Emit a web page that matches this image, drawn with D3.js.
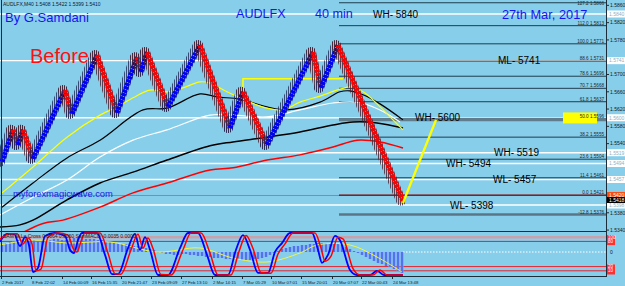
<!DOCTYPE html>
<html><head><meta charset="utf-8">
<script src="https://cdn.jsdelivr.net/npm/d3@7"></script>
<style>body{margin:0;background:#87CEEB;} svg{display:block;font-family:"Liberation Sans",Arial,sans-serif;}</style>
</head><body><svg id="c" width="625" height="286"></svg>
<script>
// ---------- DATA ----------
// zigzag (renko) turning points: bar index, price
const zzBar   = [1,6.5,9,11.5,16.5,32.5,36,48.5,58.5,68.5,70.5,73.5,84,100,115,121.5,133.5,156.5,160.5,169,201.5];
const zzPrice = [1.5498,1.5572,1.5537,1.5572,1.5505,1.5664,1.5609,1.5745,1.5611,1.5740,1.5706,1.5752,1.5625,1.5768,1.5576,1.5660,1.5537,1.5752,1.5669,1.5768,1.5408];

const yellowBar = [1,16.5,33.5,50,58.5,66.5,75,83.5,91.5,100,105,113.5,125,133.5,141.5,150,160,170,176,182.5,190,196.5,201.5];
const yellowVal = [1.5426,1.5486,1.5555,1.5606,1.5625,1.5646,1.5664,1.5660,1.5669,1.5683,1.5680,1.5660,1.5636,1.5622,1.5618,1.5636,1.5650,1.5666,1.5671,1.5657,1.5625,1.5595,1.5572];
const black1Bar = [1,16.5,33.5,50,71.5,83.5,100,108.5,120,133.5,143.5,160,170,175,181.5,190,201.5];
const black1Val = [1.5393,1.5449,1.5507,1.5548,1.5618,1.5622,1.5655,1.5648,1.5643,1.5625,1.5618,1.5636,1.5660,1.5662,1.5653,1.5632,1.5595];
const whiteBar  = [0,16.5,33.5,50,66.5,83.5,105,116.5,133.5,150,166.5,178.5,190,200];
const whiteVal  = [1.5375,1.5416,1.5456,1.5509,1.5548,1.5572,1.5606,1.5606,1.5602,1.5618,1.5634,1.5636,1.5618,1.5590];
const black2Bar = [0,10,16.5,33.5,50,66.5,83.5,105,116.5,133.5,150,166.5,176.5,188.5,201.5];
const black2Val = [1.5347,1.5352,1.5363,1.5410,1.5449,1.5474,1.5502,1.5535,1.5544,1.5555,1.5567,1.5583,1.5590,1.5588,1.5576];
const redBar    = [0,21.5,31.5,50,66.5,83.5,105,116.5,133.5,150,166.5,178.5,190,201.5];
const redVal    = [1.5306,1.5355,1.5363,1.5393,1.5426,1.5449,1.5479,1.5484,1.5502,1.5514,1.5532,1.5548,1.5544,1.5530];

const stepBar = [121.5,121.5,171.5];
const stepVal = [1.5657,1.5690,1.5690];
const projBar = [201.5,218];
const projVal = [1.5403,1.5595];

// horizontal levels
const levelPrice = [1.5840,1.5732,1.5600,1.5519,1.5494,1.5457,1.5398];
const levelText  = ["WH- 5840","ML- 5741","WH- 5600","WH- 5519","WH- 5494","WL- 5457","WL- 5398"];
const levelBox   = ["1.5840","1.5741","1.5600","1.5519","1.5494","1.5457","1.5398"];
const levelLabelX = [373,498,415,494,446,493,450];

// fibonacci
const fibStartBar = 169.5;
const fibPct   = ["127.2","112.0","100.0","88.6","78.6","70.7","61.8","50.0","38.2","23.6","11.4","0.0","-12.8"];
const fibPrice = [1.5866,1.5813,1.5771,1.5731,1.5696,1.5668,1.5637,1.5596,1.5555,1.5504,1.5461,1.5421,1.5376];

const priceTicks = [1.5860,1.5820,1.5780,1.5700,1.5660,1.5620,1.5580,1.5540,1.5380,1.5340];
const bidPrice = 1.5420;

// time axis
const timeBar = [0.5,15.5,31,45.5,60.5,75.5,90.5,106,121,135.5,150.5,166,180.5,196];
const timeLabel = ["2 Feb 2017","8 Feb 22:02","14 Feb 00:09","16 Feb 15:35","20 Feb 21:47","23 Feb 09:09","27 Feb 13:10","2 Mar 14:15","7 Mar 05:29","10 Mar 07:01","15 Mar 20:01","20 Mar 07:07","22 Mar 00:43","24 Mar 13:48"];

// oscillator
const oscBlueBar = [0,3.5,7,10,12.5,14.5,16.5,19,22.5,27.5,32.5,35,37,39,41,48.5,52.5,56,59,64,67.5,70,72.5,75,79,84,90,94,99,103.5,107.5,114,118,121.5,125,129,134,137.5,141,145,156,159,161,164,167.5,170,175,178.5,185,188.5,192,201.5];
const oscBlueVal = [79,98,98,69,90,71,7,17,93,100,93,60,52,83,100,100,48,2,2,64,98,60,90,60,0,0,64,100,100,48,0,0,60,95,60,5,5,55,76,100,100,60,29,48,93,83,12,0,0,10,0,0];
const oscRedBar = [0,5,8.5,11.5,14,16,18,20.5,24,29,34,36.5,38.5,40.5,42.5,50,54,57.5,60.5,65.5,69,71.5,74,76.5,80.5,85.5,91.5,95.5,100.5,105,109,115.5,119.5,123,126.5,130.5,135.5,139,142.5,146.5,157.5,160.5,162.5,165.5,169,171.5,176.5,180,186.5,190,193.5,201.5];
const oscRedVal = [85,98,98,74,88,74,10,14,90,100,95,64,55,80,100,100,52,3,2,60,97,64,88,63,1,0,60,100,100,52,0,0,56,94,63,6,4,50,74,100,100,64,33,45,90,86,15,0,0,12,0,0];
const oscLevels = [90,80,20,10];
const histVal = [8,9,10,11,12,12,13,13, 12,11,11,12,12,13,13,12, 12,13,14,14,14,13,13,13,12, 12,11,10,10,9,8,8, 7,6,6,5,4,3,2, 0,-1,-2,-2,-3,-3,-2,-2,-3,-3,-4, -4,-5,-5,-6,-6,-6,-7,-7,-7, -7,-8,-8,-8,-7,-7,-6,-5,-3, -1,1,3,4,5,6,6,7, 7,8,8,9,9,9,9,8,8,7,5,3, 1,-1,-3,-5,-7,-9,-11,-12,-14,-15,-17,-19,-21];
const histStartBar = 1, histStepBar = 2;
const sigBar = [0,16.5,33.5,55,78.5,100,116.5,133.5,150,158.5,175,188.5,201];
const sigVal = [7,12,9,10,0,4,-6,-10,-1,7,7,-5,-20];

// ---------- DRAW ----------
const svg = d3.select('#c');
const W = 625, H = 286, AX = 606;
svg.append('rect').attr('width', W).attr('height', H).attr('fill', '#87CEEB');

const x  = d3.scaleLinear().domain([0, 303]).range([0, AX]);
const y  = d3.scaleLinear().domain([1.5840, 1.5398]).range([14, 205]);
const yo = d3.scaleLinear().domain([0, 100]).range([275, 233]);
const yh = d3.scaleLinear().domain([-21, 21]).range([273, 231]);

const defs = svg.append('defs');
defs.append('clipPath').attr('id', 'mc').append('rect').attr('x', 0).attr('y', 0).attr('width', AX).attr('height', 231);
defs.append('clipPath').attr('id', 'sc').append('rect').attr('x', 0).attr('y', 232).attr('width', AX).attr('height', 44);
[['stUp', '#1e2a58'], ['stDn', '#4a2030']].forEach(p => {
  const pat = defs.append('pattern').attr('id', p[0]).attr('patternUnits', 'userSpaceOnUse')
    .attr('width', 2).attr('height', 6);
  pat.append('rect').attr('x', 0).attr('y', 0).attr('width', 1).attr('height', 6).attr('fill', p[1]).attr('fill-opacity', 0.8);
});
const main = svg.append('g').attr('clip-path', 'url(#mc)');
const sub  = svg.append('g').attr('clip-path', 'url(#sc)');

const zip = (a, b) => a.map((v, i) => [v, b[i]]);
const pline = d3.line().x(d => x(d[0])).y(d => y(d[1])).curve(d3.curveCatmullRom.alpha(0.5));
const sline = d3.line().x(d => x(d[0])).y(d => y(d[1]));

// level lines (white)
levelPrice.forEach(p => {
  main.append('line').attr('x1', 0).attr('x2', AX).attr('y1', y(p)).attr('y2', y(p))
    .attr('stroke', '#ffffff').attr('stroke-width', 1.4);
});
// bid line
main.append('line').attr('x1', 0).attr('x2', AX).attr('y1', y(bidPrice)).attr('y2', y(bidPrice))
  .attr('stroke', '#d9704f').attr('stroke-width', 1);

// fib lines
fibPrice.forEach((p, i) => {
  const pct = fibPct[i];
  let col = '#1f3d4c', sw = 1;
  if (pct === '50.0') { col = '#5f7d8d'; sw = 3.5; }
  if (pct === '0.0') { col = '#7a0000'; sw = 1.3; }
  if (pct === '-12.8') { col = '#5a7686'; sw = 2.5; }
  main.append('line').attr('x1', x(fibStartBar)).attr('x2', AX).attr('y1', y(p)).attr('y2', y(p))
    .attr('stroke', col).attr('stroke-width', sw);
});
// yellow highlight for 50.0 label
main.append('rect').attr('x', 563).attr('y', y(fibPrice[7]) - 7).attr('width', 34).attr('height', 11).attr('fill', '#ffff00');
fibPrice.forEach((p, i) => {
  main.append('text').attr('x', 604).attr('y', Math.max(y(p) - 1, 4.5)).attr('text-anchor', 'end')
    .attr('font-size', 4.6).attr('fill', '#1a2a33').text(fibPct[i] + '  ' + p.toFixed(4));
});

// moving averages
const mas = [
  [whiteBar, whiteVal, '#ffffff', 1.2],
  [redBar, redVal, '#ff0000', 1.5],
  [black2Bar, black2Val, '#000000', 1.5],
  [black1Bar, black1Val, '#000000', 1.2],
  [yellowBar, yellowVal, '#ffff00', 1.2]
];
mas.forEach(m => {
  main.append('path').attr('d', pline(zip(m[0], m[1]))).attr('fill', 'none')
    .attr('stroke', m[2]).attr('stroke-width', m[3]);
});
main.append('path').attr('d', sline(zip(stepBar, stepVal))).attr('fill', 'none').attr('stroke', '#ffff00').attr('stroke-width', 1.6);

// bricks (zigzag legs)
for (let i = 0; i < zzBar.length - 1; i++) {
  const seg = [[zzBar[i], zzPrice[i]], [zzBar[i + 1], zzPrice[i + 1]]];
  const up = zzPrice[i + 1] > zzPrice[i];
  main.append('path').attr('d', sline(seg)).attr('transform', 'translate(-2,0)')
    .attr('stroke', up ? 'url(#stUp)' : 'url(#stDn)').attr('stroke-width', 10)
    .attr('stroke-linecap', 'round').attr('fill', 'none');
  main.append('path').attr('d', sline(seg))
    .attr('stroke', up ? '#0000ff' : '#ff0000').attr('stroke-width', 5)
    .attr('stroke-dasharray', '3 0.6').attr('fill', 'none');
}
// projection line
main.append('path').attr('d', sline(zip(projBar, projVal))).attr('fill', 'none').attr('stroke', '#ffff00').attr('stroke-width', 2.4);

// texts main
const T = (tx, ty, s, size, col, anchor) => svg.append('text').attr('x', tx).attr('y', ty).attr('font-size', size)
  .attr('fill', col).attr('text-anchor', anchor || 'start').text(s);
T(3, 6, 'AUDLFX,M40  1.5408 1.5422 1.5399 1.5410', 5, '#10202a');
T(5, 22, 'By G.Samdani', 13, '#1515f0');
T(30, 63, 'Before', 20, '#ff1010');
T(236, 18, 'AUDLFX', 12.6, '#1515f0');
T(315, 18, '40 min', 12.6, '#1515f0');
T(502, 19, '27th Mar, 2017', 12.8, '#1515f0');
T(13, 197, 'myforexmagicwave.com', 9.3, '#1a1ae0');
levelPrice.forEach((p, i) => T(levelLabelX[i], y(p) + 3.6, levelText[i], 10, '#000000'));

// frame
svg.append('line').attr('x1', AX + 0.5).attr('x2', AX + 0.5).attr('y1', 0).attr('y2', 277).attr('stroke', '#1c2c38');
svg.append('line').attr('x1', 1.5).attr('x2', 1.5).attr('y1', 0).attr('y2', 277).attr('stroke', '#1c2c38');
svg.append('line').attr('x1', 0).attr('x2', AX).attr('y1', 231.5).attr('y2', 231.5).attr('stroke', '#1c2c38');
svg.append('line').attr('x1', 0).attr('x2', AX).attr('y1', 276.5).attr('y2', 276.5).attr('stroke', '#1c2c38');

// price axis
priceTicks.forEach(p => {
  svg.append('line').attr('x1', AX).attr('x2', AX + 3).attr('y1', y(p)).attr('y2', y(p)).attr('stroke', '#1c2c38');
  T(AX + 4, y(p) + 1.8, p.toFixed(4), 5, '#10202a');
});
levelPrice.forEach((p, i) => {
  svg.append('rect').attr('x', AX + 1).attr('y', y(p) - 3.5).attr('width', 18).attr('height', 7).attr('fill', '#ffffff');
  T(AX + 3, y(p) + 1.8, levelBox[i], 5, '#8fb0c0');
});
svg.append('rect').attr('x', AX + 1).attr('y', y(bidPrice) - 3.5).attr('width', 18).attr('height', 7).attr('fill', '#ff4a10');
T(AX + 3, y(bidPrice) + 1.8, bidPrice.toFixed(4), 5, '#ffffff');
svg.append('rect').attr('x', AX + 1).attr('y', y(bidPrice) + 1.5).attr('width', 18).attr('height', 6).attr('fill', '#000000');
T(AX + 3, y(bidPrice) + 6.3, '1.5418', 5, '#ffffff');

// ---------- sub window ----------
oscLevels.forEach(l => {
  sub.append('line').attr('x1', 0).attr('x2', AX).attr('y1', yo(l)).attr('y2', yo(l))
    .attr('stroke', l === 90 ? '#c9a1aa' : '#e8202a').attr('stroke-width', l === 90 ? 2.5 : 1);
});
sub.append('line').attr('x1', x(201.5)).attr('x2', AX).attr('y1', yh(0)).attr('y2', yh(0))
  .attr('stroke', '#ffffff').attr('stroke-dasharray', '1.5 1.5');
histVal.forEach((v, i) => {
  const b = histStartBar + i * histStepBar;
  const y0 = yh(0), y1 = yh(v);
  sub.append('rect').attr('x', x(b) - 1.5).attr('width', 3).attr('y', Math.min(y0, y1)).attr('height', Math.abs(y1 - y0) || 0.5)
    .attr('fill', '#7d9cf7');
  sub.append('rect').attr('x', x(b) - 0.5).attr('width', 1).attr('y', Math.min(y0, y1)).attr('height', Math.abs(y1 - y0) || 0.5)
    .attr('fill', '#2b4ae6');
});
const hline = d3.line().x(d => x(d[0])).y(d => yh(d[1])).curve(d3.curveCatmullRom.alpha(0.5));
sub.append('path').attr('d', hline(zip(sigBar, sigVal))).attr('fill', 'none').attr('stroke', '#f5f53a').attr('stroke-width', 1);
const oline = d3.line().x(d => x(d[0])).y(d => yo(d[1])).curve(d3.curveMonotoneX);
sub.append('path').attr('d', oline(zip(oscBlueBar, oscBlueVal))).attr('fill', 'none').attr('stroke', '#0000ff').attr('stroke-width', 1.8);
sub.append('path').attr('d', oline(zip(oscRedBar, oscRedVal))).attr('fill', 'none').attr('stroke', '#ff0000').attr('stroke-width', 1.5);
T(3, 238, 'SAM M.Lo.Cross 0.0064 0.0060 SamMACD -0.0035 0.0000', 5, '#10202a');

// sub axis
svg.append('rect').attr('x', AX + 1).attr('y', yo(95)).attr('width', 8).attr('height', 10).attr('fill', '#ff3030');
svg.append('rect').attr('x', AX + 1).attr('y', yo(25)).attr('width', 8).attr('height', 10).attr('fill', '#ff3030');
T(AX + 2, yo(90) + 1.6, '100', 4.5, '#ffffff');
T(AX + 2, yo(80) + 1.6, '80', 4.5, '#ffffff');
T(AX + 2, yo(20) + 1.6, '20', 4.5, '#ffffff');
T(AX + 2, yo(10) + 1.6, '10', 4.5, '#ffffff');
T(AX + 4, yh(0) + 1.8, '0', 5, '#10202a');

// time axis
timeBar.forEach((b, i) => {
  svg.append('line').attr('x1', x(b) + 0.5).attr('x2', x(b) + 0.5).attr('y1', 276.5).attr('y2', 279).attr('stroke', '#1c2c38');
  T(x(b) + 1, 284, timeLabel[i], 4.3, '#10202a');
});
</script></body></html>
